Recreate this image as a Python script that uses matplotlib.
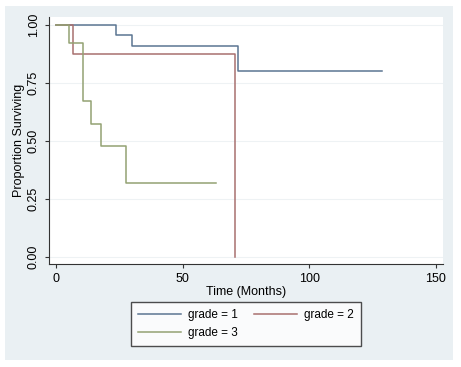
import matplotlib.pyplot as plt
from matplotlib.patches import Rectangle

plt.rcParams['font.family'] = ['Liberation Sans', 'DejaVu Sans']

# Kaplan-Meier step curves (time in months, survival)
g1_time = [0, 23.7, 30.0, 71.9, 128.7]
g1_surv = [1.0, 0.957, 0.91, 0.80, 0.80]
g2_time = [0, 6.8, 70.7]
g2_surv = [1.0, 0.875, 0.0]
g3_time = [0, 5.0, 10.7, 13.7, 17.6, 27.8, 63.0]
g3_surv = [1.0, 0.923, 0.67, 0.575, 0.48, 0.32, 0.32]

labels = ['grade = 1', 'grade = 2', 'grade = 3']
colors = ['#5b7592', '#a8706f', '#93a273']
x_ticks = [0, 50, 100, 150]
y_ticks = [0.0, 0.25, 0.5, 0.75, 1.0]

fig = plt.figure(figsize=(4.61, 3.67), dpi=100)
fig.patch.set_facecolor('white')
# light outer panel as in Stata graphs
fig.patches.append(Rectangle((5 / 461, 1 - 360 / 367), 448 / 461, 354 / 367,
                             transform=fig.transFigure, facecolor='#eaf0f3',
                             edgecolor='none', zorder=-10))

ax = fig.add_axes([49 / 461, 1 - 264 / 367, 394 / 461, 247 / 367])
ax.set_facecolor('white')

lines = []
for t, s, c, lab in zip([g1_time, g2_time, g3_time],
                        [g1_surv, g2_surv, g3_surv], colors, labels):
    ln, = ax.step(t, s, where='post', color=c, lw=1.1, label=lab)
    lines.append(ln)

ax.set_xlim(-2.8, 152.8)
ax.set_ylim(-0.03, 1.034)
ax.set_xticks(x_ticks)
ax.set_yticks(y_ticks)
ax.set_yticklabels([f'{v:.2f}' for v in y_ticks], rotation=90, va='center')
ax.tick_params(labelsize=9, length=3, color='#333333')
for v in y_ticks:
    ax.axhline(v, color='#eef2f4', lw=0.8, zorder=0)
ax.spines['top'].set_visible(False)
ax.spines['right'].set_visible(False)
ax.spines['left'].set_color('#333333')
ax.spines['bottom'].set_color('#333333')
ax.set_xlabel('Time (Months)', fontsize=9, labelpad=1)
ax.set_ylabel('Proportion Surviving', fontsize=9, labelpad=2)

leg = fig.legend([lines[0], lines[2], lines[1]],
                 [labels[0], labels[2], labels[1]],
                 ncol=2, loc='center', bbox_to_anchor=(246 / 461, 1 - 324 / 367),
                 fontsize=8.5, frameon=True, fancybox=False,
                 handlelength=3.6, handletextpad=0.6, columnspacing=1.4,
                 labelspacing=0.5, borderpad=0.6, borderaxespad=0)
leg.get_frame().set_edgecolor('#222222')
leg.get_frame().set_linewidth(1.0)

fig.savefig('out.png', dpi=100)
